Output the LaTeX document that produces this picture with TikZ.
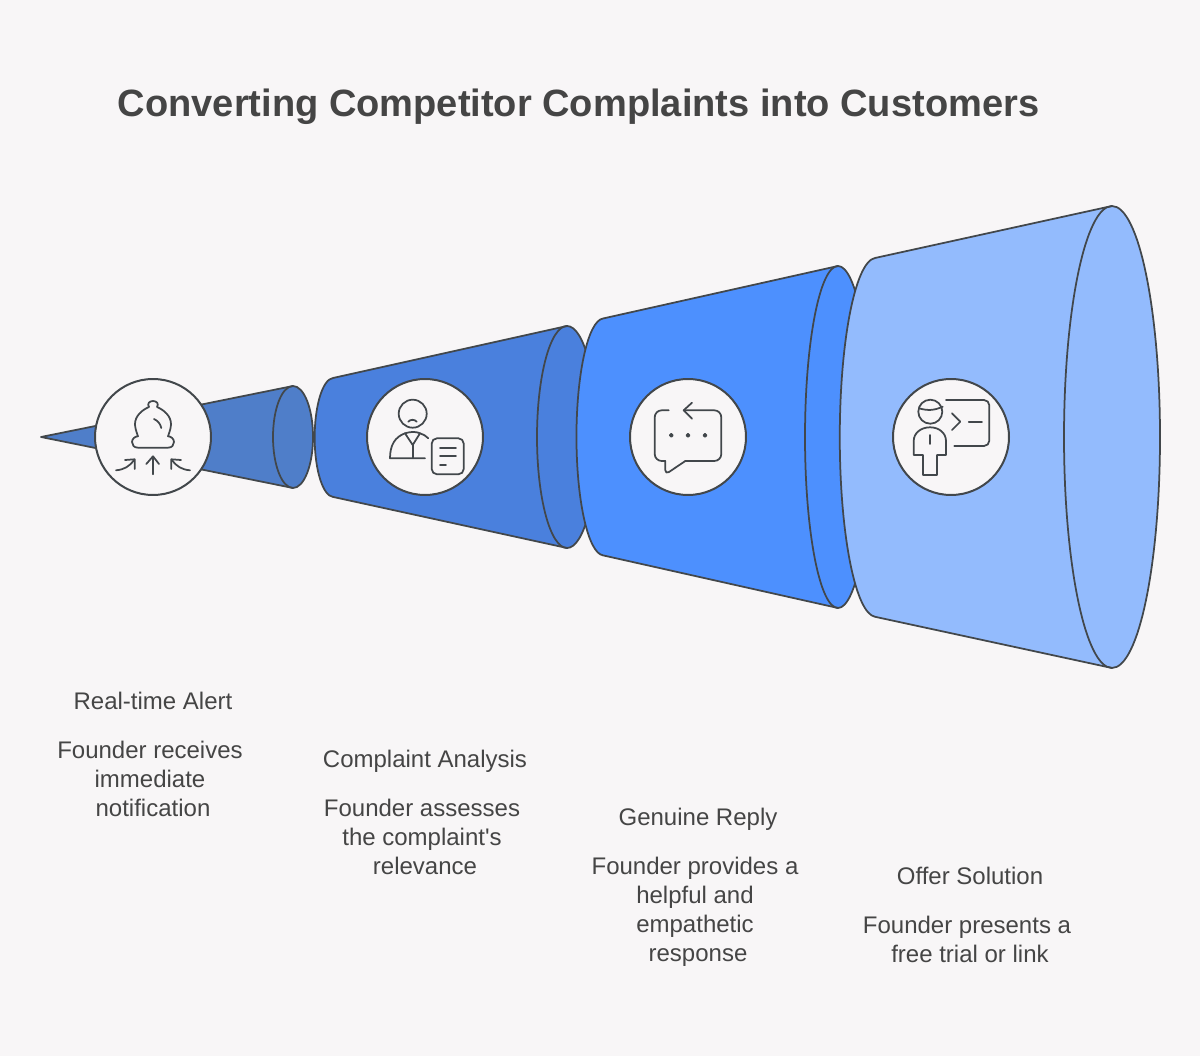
\documentclass[tikz,border=0pt]{standalone}
\usepackage{fontspec}
\setmainfont{Liberation Sans}
\usetikzlibrary{positioning}
\definecolor{eBg}{HTML}{F8F6F7}
\definecolor{eLine}{HTML}{42474B}
\definecolor{eText}{HTML}{454545}
\definecolor{eOne}{HTML}{4F7EC9}
\definecolor{eTwo}{HTML}{4A80DD}
\definecolor{eThree}{HTML}{4D90FE}
\definecolor{eFour}{HTML}{93BBFD}
\tikzset{c/.style={draw=eLine, line width=0.035cm, line join=round}}
\tikzset{v/.style={circle, draw=eLine, line width=0.04cm, fill=eBg, inner sep=0pt, minimum size=2.32cm}}
\tikzset{ic/.style={draw=eLine, line width=0.035cm, line cap=round, line join=round}}
\tikzset{head/.style={font=\fontsize{13.66pt}{16.5pt}\selectfont, text=eText, align=center, inner sep=0pt}}
\tikzset{body/.style={font=\fontsize{13.66pt}{16.5pt}\selectfont, text=eText, align=center, inner sep=0pt}}
\newcommand{\tsp}{\kern.12cm\relax}
\begin{document}
\begin{tikzpicture}[x=0.02cm, y=0.02cm]
            \useasboundingbox[fill=eBg] (0,0) rectangle (1200,1056);
            \node (title) at (578.5,949) [font=\fontsize{21.65pt}{26pt}\selectfont\bfseries, text=eText, inner sep=0pt] {Converting Competitor Complaints into Customers};
            %%
            \draw [c, fill=eOne] (41,619) -- (293,670) arc[start angle=90, end angle=-90, x radius=20, y radius=51] -- cycle;
            \draw [c] (293,670) arc[start angle=90, end angle=270, x radius=20, y radius=51];
            %%
            \draw [c, fill=eTwo] (333,678) arc[start angle=92, end angle=268, x radius=19, y radius=59.5] -- (567,508) arc[start angle=-90, end angle=90, x radius=30, y radius=111] -- cycle;
            \draw [c] (567,730) arc[start angle=90, end angle=270, x radius=30, y radius=111];
            %%
            \draw [c, fill=eThree] (603,737.5) arc[start angle=92, end angle=268, x radius=27.5, y radius=118.5] -- (838,448) arc[start angle=-90, end angle=90, x radius=33, y radius=171] -- cycle;
            \draw [c] (838,790) arc[start angle=90, end angle=270, x radius=33, y radius=171];
            %%
            \draw [c, fill=eFour] (875,798) arc[start angle=92, end angle=268, x radius=36.5, y radius=179.5] -- (1112,388) arc[start angle=-90, end angle=90, x radius=48, y radius=231] -- cycle;
            \draw [c] (1112,850) arc[start angle=90, end angle=270, x radius=48, y radius=231];
            %%
            \node (alert) at (153,619) [v] {};
            \node (analysis) at (425,619) [v] {};
            \node (reply) at (688,619) [v] {};
            \node (solution) at (951,619) [v] {};
            %%
            \begin{scope}[shift = {(alert.center)}]
                \draw [ic] (-15,-10.7) .. controls (-19,-10.7) and (-21,-8) .. (-21,-5) .. controls (-21,-2) and (-18,0.7) .. (-15,0.7) .. controls (-17,6) and (-18,10) .. (-18,13) .. controls (-18,21) and (-11,27) .. (-4,30) .. controls (-6,33) and (-4,36) .. (0,36) .. controls (4,36) and (6,33) .. (4,30) .. controls (11,27) and (18,21) .. (18,13) .. controls (18,10) and (17,6) .. (15,0.7) .. controls (18,0.7) and (21,-2) .. (21,-5) .. controls (21,-8) and (19,-10.7) .. (15,-10.7) -- cycle;
                \draw [ic] (1,18) to [bend left=25] (8.3,9);
                \draw [ic] (0,-37.3) -- (0,-20);
                \draw [ic] (-6.7,-27) -- (0,-19.3) -- (6,-27);
                \draw [ic] (-37,-33.3) to [bend right=25] (-19,-23);
                \draw [ic] (-28,-23) -- (-18.3,-22.3) -- (-18.3,-32);
                \draw [ic] (37,-33.3) to [bend left=25] (19,-23);
                \draw [ic] (28,-23) -- (18.3,-22.3) -- (18.3,-32);
            \end{scope}
            \begin{scope}[shift = {(analysis.center)}]
                \draw [ic] (-12.3,23.3) circle (14);
                \draw [ic] (-16.7,15.3) to [bend left=50] (-8.3,15.3);
                \draw [ic] (0,-21.3) -- (-35,-21.3) .. controls (-35,-8) and (-30,0) .. (-20,3.7) .. controls (-14,5.5) and (-9,5.5) .. (-5,3.7) .. controls (-2,3) and (1,1) .. (3.3,-1.3);
                \draw [ic] (-20,3.7) -- (-12.3,-8) -- (-5,3.7);
                \draw [ic] (-12.3,-8) -- (-12.3,-21.3);
                \draw [ic, rounded corners=3] (6.7,-1.3) rectangle (38.7,-37.3);
                \draw [ic] (15,-11.3) -- (31,-11.3);
                \draw [ic] (15,-19.3) -- (31,-19.3);
                \draw [ic] (15,-27.7) -- (21,-27.7);
            \end{scope}
            \begin{scope}[shift = {(reply.center)}]
                \draw [ic, rounded corners=4] (-19.3,26.7) -- (-33.3,26.7) -- (-33.3,-24) -- (-22.7,-24);
                \draw [ic, rounded corners=2.5] (-22.7,-24) -- (-22.7,-37.5) -- (-2.7,-24);
                \draw [ic, rounded corners=4] (-2.7,-24) -- (33.3,-24) -- (33.3,26.7) -- (-4.3,26.7);
                \draw [ic] (4,34.3) -- (-4.3,26.7) -- (4,18.3);
                \draw [ic] (-16.7,1.7) circle (1.5);
                \draw [ic] (0,1.7) circle (1.5);
                \draw [ic] (17,1.7) circle (1.5);
            \end{scope}
            \begin{scope}[shift = {(solution.center)}]
                \draw [ic] (-20.7,25.3) circle (12);
                \draw [ic] (-32,28.7) to [bend right=20] (-8.3,30.3);
                \draw [ic] (-28,-18) -- (-37.3,-18) -- (-37.3,-4) .. controls (-37.3,4) and (-30,9.7) .. (-21,9.7) .. controls (-12,9.7) and (-5,4) .. (-5,-4) -- (-5,-18) -- (-14,-18) -- (-14,-38) -- (-28,-38) -- cycle;
                \draw [ic] (-21,2) -- (-21,-7);
                \draw [ic, rounded corners=3] (-5,37) -- (38.3,37) -- (38.3,-9) -- (3.3,-9);
                \draw [ic] (1,23.7) -- (9.3,15.3) -- (1,7);
                \draw [ic] (17.7,14.7) -- (31,14.7);
            \end{scope}
            %%
            \node (t1) at (153,355) [head] {Real-time Alert};
            \node (d1) at (153,277) [body] {Founder receives\tsp\\immediate\tsp\\notification};
            \node (t2) at (425,295) [head] {Complaint Analysis};
            \node (d2) at (425,219) [body] {Founder assesses\tsp\\the complaint\textquotesingle s\tsp\\relevance};
            \node (t3) at (698,237) [head] {Genuine Reply};
            \node (d3) at (698,144.5) [body] {Founder provides a\tsp\\helpful and\tsp\\empathetic\tsp\\response};
            \node (t4) at (970,180) [head] {Offer Solution};
            \node (d4) at (970,117) [body] {Founder presents a\tsp\\free trial or link};
          \end{tikzpicture}
\end{document}
